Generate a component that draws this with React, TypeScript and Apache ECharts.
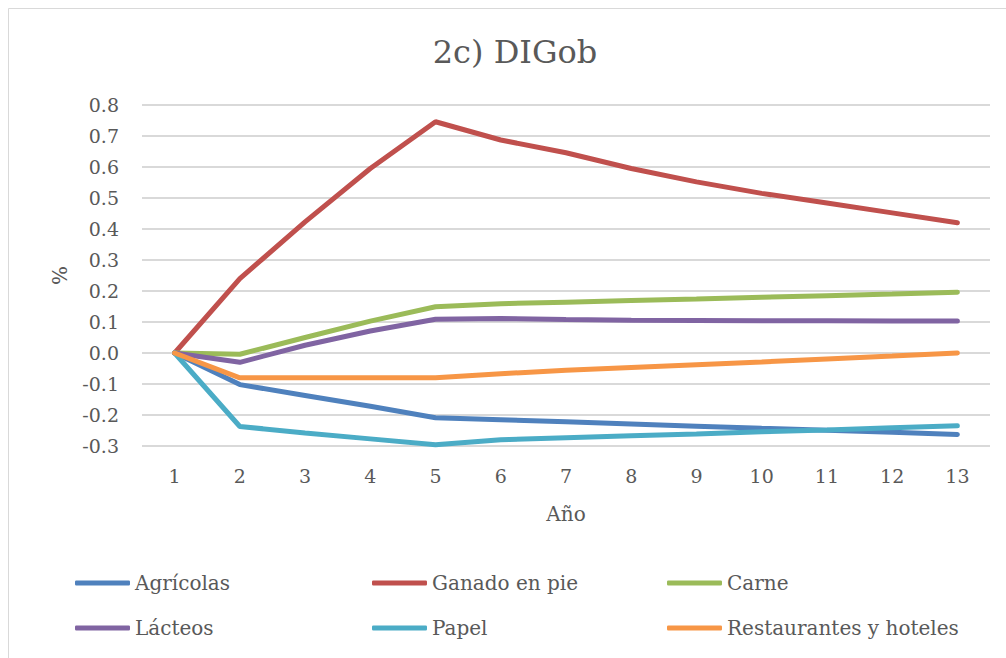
import React, { useEffect, useRef } from "react";
import * as echarts from "echarts";

const years = ["1", "2", "3", "4", "5", "6", "7", "8", "9", "10", "11", "12", "13"];
const agricolas = [0, -0.102, -0.137, -0.172, -0.209, -0.215, -0.222, -0.229, -0.236, -0.243, -0.249, -0.256, -0.263];
const ganado = [0, 0.24, 0.423, 0.595, 0.746, 0.687, 0.646, 0.595, 0.552, 0.515, 0.484, 0.452, 0.42];
const carne = [0, -0.004, 0.05, 0.103, 0.149, 0.159, 0.164, 0.169, 0.174, 0.18, 0.185, 0.19, 0.196];
const lacteos = [0, -0.03, 0.025, 0.071, 0.109, 0.111, 0.108, 0.106, 0.105, 0.104, 0.104, 0.103, 0.103];
const papel = [0, -0.237, -0.258, -0.277, -0.296, -0.28, -0.273, -0.267, -0.261, -0.254, -0.248, -0.241, -0.235];
const restaurantes = [0, -0.08, -0.08, -0.08, -0.08, -0.067, -0.056, -0.047, -0.038, -0.029, -0.019, -0.01, 0];

const seriesNames = ["Agrícolas", "Ganado en pie", "Carne", "Lácteos", "Papel", "Restaurantes y hoteles"];
const seriesData = [agricolas, ganado, carne, lacteos, papel, restaurantes];
const colors = ["#4F81BD", "#C0504D", "#9BBB59", "#8064A2", "#4BACC6", "#F79646"];

const FONT = "DejaVu Serif";
const TEXT = "#595959";

export default function App() {
  const ref = useRef<HTMLDivElement>(null);
  useEffect(() => {
    if (!ref.current) return;
    const chart = echarts.init(ref.current, null, { renderer: "svg" });
    const legendPos = [
      [67, 564], [364, 564], [659, 564],
      [67, 609], [364, 609], [659, 609],
    ];
    chart.setOption({
      animation: false,
      color: colors,
      textStyle: { fontFamily: FONT, color: TEXT },
      title: {
        text: "2c) DIGob",
        left: 502,
        top: 23,
        textAlign: "center",
        textStyle: { fontFamily: FONT, fontSize: 32, fontWeight: "normal", color: TEXT },
      },
      graphic: [
        {
          type: "rect",
          shape: { x: 0.5, y: 0.5, width: 2000, height: 2000 },
          style: { fill: "none", stroke: "#d9d9d9", lineWidth: 1 },
          silent: true,
        },
      ],
      legend: seriesNames.map((n, i) => ({
        data: [n],
        left: legendPos[i][0],
        top: legendPos[i][1],
        icon: "roundRect",
        itemWidth: 55,
        itemHeight: 5,
        padding: 0,
        textStyle: { fontFamily: FONT, fontSize: 20, color: TEXT, lineHeight: 22 },
      })),
      grid: { left: 134, right: 16, top: 97, bottom: 212, containLabel: false },
      xAxis: {
        type: "category",
        data: years,
        boundaryGap: true,
        name: "Año",
        nameLocation: "middle",
        nameGap: 58,
        nameTextStyle: { fontFamily: FONT, fontSize: 20, color: TEXT },
        axisLine: { show: false },
        axisTick: { show: false },
        axisLabel: { fontFamily: FONT, fontSize: 19, color: TEXT, margin: 20 },
      },
      yAxis: {
        type: "value",
        min: -0.3,
        max: 0.8,
        interval: 0.1,
        name: "%",
        nameLocation: "middle",
        nameGap: 72,
        nameRotate: 90,
        nameTextStyle: { fontFamily: FONT, fontSize: 20, color: TEXT },
        axisLine: { show: false },
        axisTick: { show: false },
        splitLine: { lineStyle: { color: "#d9d9d9", width: 2 } },
        axisLabel: {
          fontFamily: FONT,
          fontSize: 19,
          color: TEXT,
          margin: 23,
          formatter: (v: number) => v.toFixed(1),
        },
      },
      series: seriesNames.map((n, i) => ({
        name: n,
        type: "line",
        data: seriesData[i],
        symbol: "none",
        lineStyle: { width: 5, color: colors[i], cap: "round" },
        itemStyle: { color: colors[i] },
        z: 2,
      })),
    });
    return () => chart.dispose();
  }, []);
  return (
    <div
      ref={ref}
      style={{ position: "fixed", left: 8, top: 8, width: 998, height: 650, background: "#fff" }}
    />
  );
}
